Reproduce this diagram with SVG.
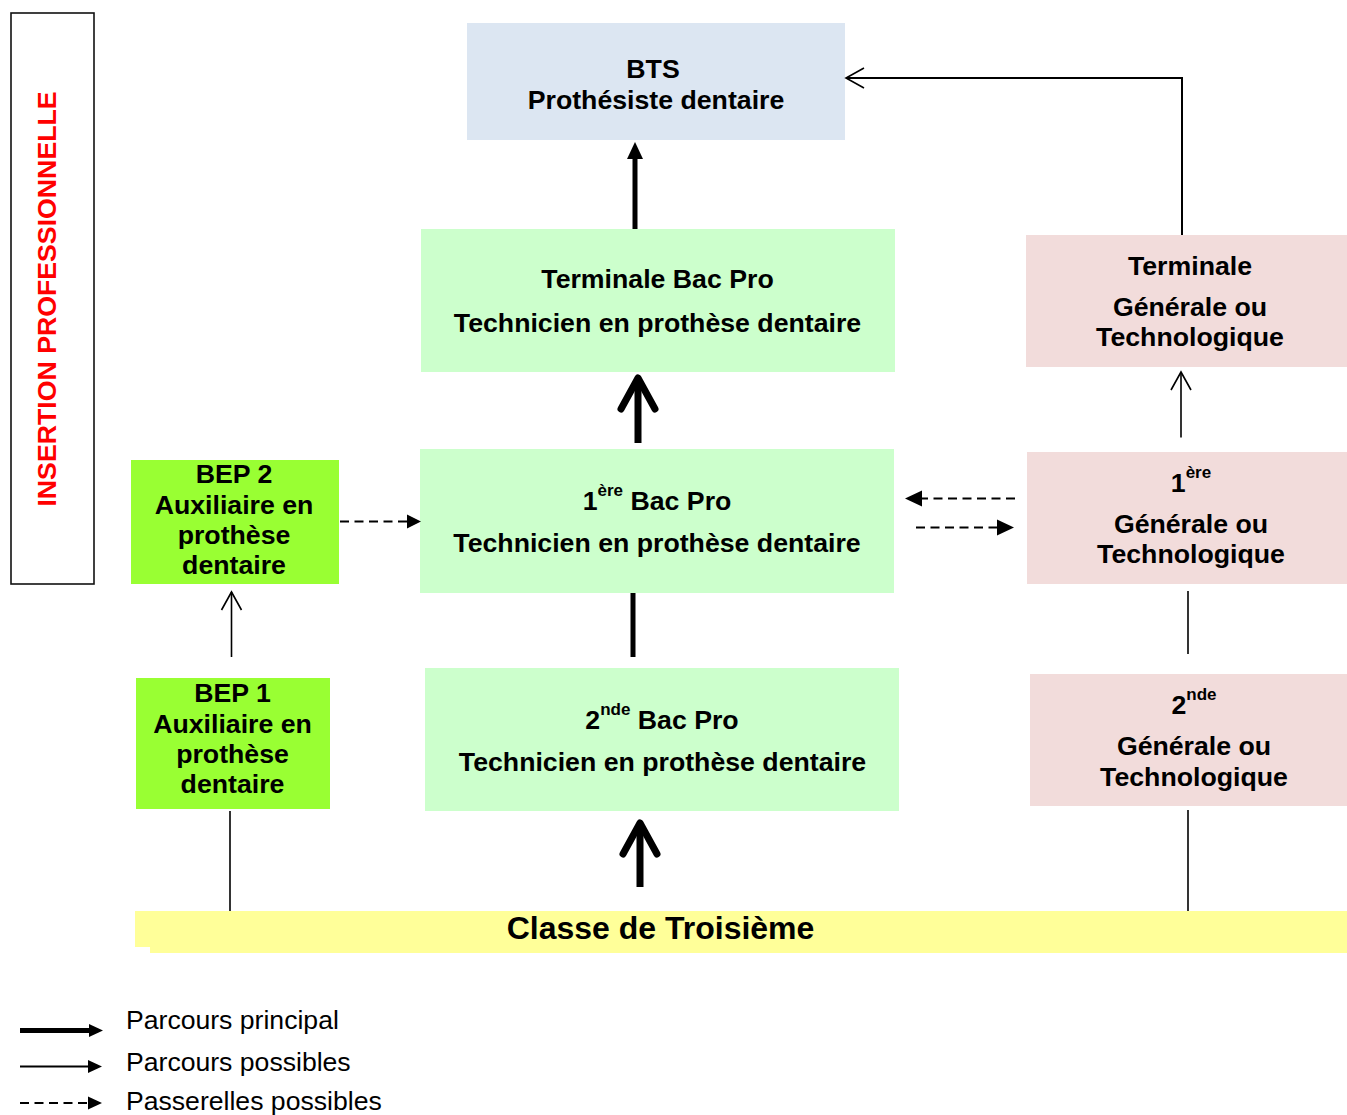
<svg xmlns="http://www.w3.org/2000/svg" width="1347" height="1115" viewBox="0 0 1347 1115">
<style>
.t{font-family:"Liberation Sans",Arial,sans-serif;font-weight:bold;font-size:26.7px;text-anchor:middle;fill:#000}
.sup{font-size:17px}
.lg{font-family:"Liberation Sans",Arial,sans-serif;font-size:26.6px;fill:#000}
.ln{stroke:#000;fill:none}
.dash{stroke-dasharray:9 5.5;stroke-width:2}
</style>
<defs>
<marker id="solid" markerUnits="userSpaceOnUse" markerWidth="17" markerHeight="16" refX="0" refY="8" orient="auto" overflow="visible"><path d="M0,0 L17,8 L0,16 Z" fill="#000"/></marker>
<marker id="dhead" markerUnits="userSpaceOnUse" markerWidth="14" markerHeight="14" refX="0" refY="7" orient="auto" overflow="visible"><path d="M0,0 L14,7 L0,14 Z" fill="#000"/></marker>
<marker id="lhead" markerUnits="userSpaceOnUse" markerWidth="14" markerHeight="13" refX="0" refY="6.5" orient="auto" overflow="visible"><path d="M0,0 L14,6.5 L0,13 Z" fill="#000"/></marker>
<marker id="chev" markerUnits="userSpaceOnUse" markerWidth="18" markerHeight="20" refX="18" refY="10" orient="auto" overflow="visible"><path d="M0,0 L18,10 L0,20" fill="none" stroke="#000" stroke-width="1.6"/></marker>
<marker id="chevB" markerUnits="userSpaceOnUse" markerWidth="31" markerHeight="34" refX="31" refY="17" orient="auto" overflow="visible"><path d="M0,0 L31,17 L0,34" fill="none" stroke="#000" stroke-width="7" stroke-linecap="round" stroke-linejoin="round"/></marker>
</defs>
<rect width="1347" height="1115" fill="#fff"/>

<g id="insertion">
<rect x="11" y="13" width="83" height="571" fill="#fff" stroke="#111" stroke-width="1.6"/>
<text class="t" style="fill:#ff0000" transform="translate(56,299) rotate(-90)">INSERTION PROFESSIONNELLE</text>
</g>

<g id="bts">
<rect x="467" y="23" width="378" height="117" fill="#dce6f2"/>
<text class="t" x="653" y="78">BTS</text>
<text class="t" x="656" y="109">Prothésiste dentaire</text>
</g>

<g id="terminale-bacpro">
<rect x="421" y="229" width="474" height="143" fill="#ccffcc"/>
<text class="t" x="657.5" y="288">Terminale Bac Pro</text>
<text class="t" x="657.5" y="332">Technicien en prothèse dentaire</text>
</g>

<g id="premiere-bacpro">
<rect x="420" y="449" width="474" height="144" fill="#ccffcc"/>
<text class="t" x="657" y="510">1<tspan class="sup" dy="-14">ère</tspan><tspan dy="14"> Bac Pro</tspan></text>
<text class="t" x="657" y="552">Technicien en prothèse dentaire</text>
</g>

<g id="seconde-bacpro">
<rect x="425" y="668" width="474" height="143" fill="#ccffcc"/>
<text class="t" x="662" y="729">2<tspan class="sup" dy="-14">nde</tspan><tspan dy="14"> Bac Pro</tspan></text>
<text class="t" x="662.5" y="771">Technicien en prothèse dentaire</text>
</g>

<g id="terminale-gt">
<rect x="1026" y="235" width="321" height="132" fill="#f2dcdb"/>
<text class="t" x="1190" y="275">Terminale</text>
<text class="t" x="1190" y="316">Générale ou</text>
<text class="t" x="1190" y="346">Technologique</text>
</g>

<g id="premiere-gt">
<rect x="1027" y="452" width="320" height="132" fill="#f2dcdb"/>
<text class="t" x="1191" y="492">1<tspan class="sup" dy="-14">ère</tspan></text>
<text class="t" x="1191" y="533">Générale ou</text>
<text class="t" x="1191" y="563">Technologique</text>
</g>

<g id="seconde-gt">
<rect x="1030" y="674" width="317" height="132" fill="#f2dcdb"/>
<text class="t" x="1194" y="714">2<tspan class="sup" dy="-14">nde</tspan></text>
<text class="t" x="1194" y="755">Générale ou</text>
<text class="t" x="1194" y="786">Technologique</text>
</g>

<g id="bep2">
<rect x="131" y="460" width="208" height="124" fill="#99ff33"/>
<text class="t" x="234" y="483">BEP 2</text>
<text class="t" x="234" y="514">Auxiliaire en</text>
<text class="t" x="234" y="544">prothèse</text>
<text class="t" x="234" y="574">dentaire</text>
</g>

<g id="bep1">
<rect x="136" y="678" width="194" height="131" fill="#99ff33"/>
<text class="t" x="232.5" y="702">BEP 1</text>
<text class="t" x="232.5" y="733">Auxiliaire en</text>
<text class="t" x="232.5" y="763">prothèse</text>
<text class="t" x="232.5" y="793">dentaire</text>
</g>

<g id="troisieme">
<rect x="150" y="911" width="1197" height="42" fill="#ffff99"/>
<rect x="135" y="911" width="1212" height="36" fill="#ffff99"/>
<text class="t" style="font-size:32px" x="660.5" y="939">Classe de Troisième</text>
</g>

<g id="connectors">
<line class="ln" x1="635" y1="229" x2="635" y2="159" stroke-width="5" marker-end="url(#solid)"/>
<line class="ln" x1="638" y1="443" x2="638" y2="378" stroke-width="7" marker-end="url(#chevB)"/>
<line class="ln" x1="633" y1="593" x2="633" y2="657" stroke-width="5"/>
<line class="ln" x1="640" y1="887" x2="640" y2="823" stroke-width="7" marker-end="url(#chevB)"/>
<line class="ln" x1="231.5" y1="657" x2="231.5" y2="592" stroke-width="1.6" marker-end="url(#chev)"/>
<line class="ln" x1="230" y1="811" x2="230" y2="911" stroke-width="1.6"/>
<line class="ln dash" x1="340" y1="521.5" x2="407" y2="521.5" marker-end="url(#dhead)"/>
<line class="ln dash" x1="1015" y1="498.5" x2="922" y2="498.5" marker-end="url(#solid)"/>
<line class="ln dash" x1="916" y1="527.5" x2="997" y2="527.5" marker-end="url(#solid)"/>
<line class="ln" x1="1181" y1="437.5" x2="1181" y2="372" stroke-width="1.6" marker-end="url(#chev)"/>
<polyline class="ln" points="1182,235 1182,78 846,78" stroke-width="2" marker-end="url(#chev)"/>
<line class="ln" x1="1188" y1="654" x2="1188" y2="591" stroke-width="1.6"/>
<line class="ln" x1="1188" y1="911" x2="1188" y2="810" stroke-width="1.6"/>
</g>

<g id="legend">
<line class="ln" x1="20" y1="1030.5" x2="89" y2="1030.5" stroke-width="5" marker-end="url(#lhead)"/>
<text class="lg" x="126" y="1029">Parcours principal</text>
<line class="ln" x1="20" y1="1066.5" x2="88" y2="1066.5" stroke-width="2" marker-end="url(#lhead)"/>
<text class="lg" x="126" y="1071">Parcours possibles</text>
<line class="ln dash" x1="20" y1="1103" x2="88" y2="1103" stroke-dasharray="8 5" marker-end="url(#lhead)"/>
<text class="lg" x="126" y="1110">Passerelles possibles</text>
</g>
</svg>
